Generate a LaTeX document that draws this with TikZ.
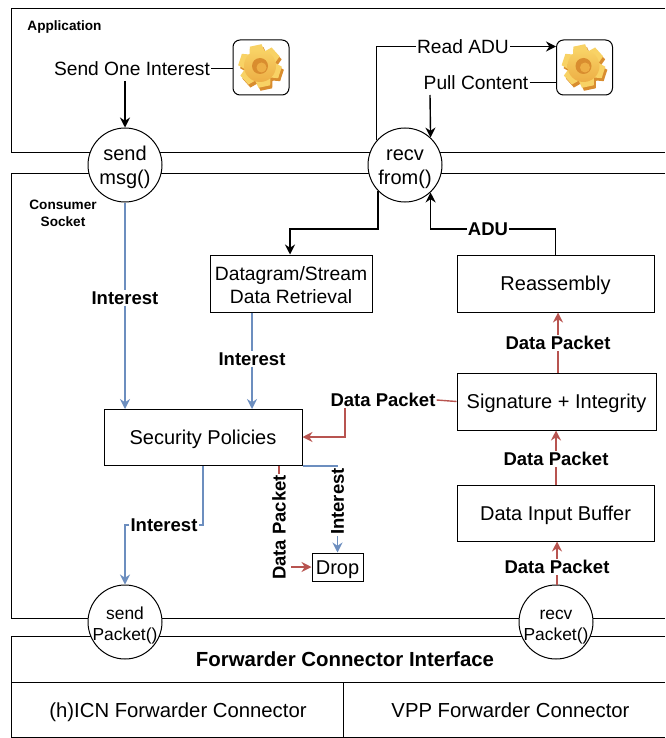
\documentclass[tikz,border=0pt]{standalone}
\usepackage{fontspec}
\setmainfont{Liberation Sans}
\usetikzlibrary{arrows.meta}
\definecolor{intblue}{HTML}{6C8EBF}
\definecolor{datared}{HTML}{B85450}
\definecolor{gearlight}{HTML}{F8D265}
\definecolor{gearmid}{HTML}{EDAE45}
\definecolor{geardark}{HTML}{D98D2F}
\newcommand{\portup}{\rule{0pt}{19pt}}
\newcommand{\portwide}[1]{\makebox[40pt]{#1}}
\tikzset{
  box/.style={draw,line width=1pt,fill=white,font=\fontsize{20}{24}\selectfont,align=center,inner sep=0pt},
  oneline/.style={text height=15pt,text depth=1pt},
  port/.style={draw,circle,line width=1pt,fill=white,minimum size=74pt,inner sep=0pt,align=center,font=\fontsize{20}{24}\selectfont},
  smallport/.style={port,font=\fontsize{17.4}{21}\selectfont},
  txt/.style={font=\fontsize{19.2}{22}\selectfont,inner sep=1pt,oneline},
  lbl/.style={font=\fontsize{18.5}{20}\selectfont\bfseries,inner sep=1pt},
  title/.style={font=\fontsize{13.6}{17}\selectfont\bfseries,align=center,inner sep=0pt},
  blk/.style={line width=1.4pt,-{Stealth[length=10pt,width=10pt]}},
  blu/.style={line width=1.4pt,intblue,-{Stealth[length=10pt,width=10pt]}},
  rd/.style={line width=1.4pt,datared,-{Stealth[length=10pt,width=10pt]}},
  gearbox/.style={draw,rounded corners=7pt,line width=1pt,fill=white,minimum width=56pt,minimum height=55pt,inner sep=0pt},
  gearicon/.pic={
    \foreach \a in {0,60,...,300} \fill[geardark,shift={(2,3)},rotate=\a+12] (-6,-21) -- (6,-21) -- (8,-12) -- (-8,-12) -- cycle;
    \fill[geardark] (2,3) circle[radius=16pt];
    \foreach \a in {0,60,...,300} \fill[gearlight,rotate=\a+12] (-6,-21) -- (6,-21) -- (8,-12) -- (-8,-12) -- cycle;
    \shade[top color=gearlight,bottom color=gearmid] (0,-16) arc[start angle=90,end angle=-270,radius=16pt];
    \fill[geardark] (0,0) circle[radius=8pt];
    \fill[gearmid] (1.5,1.5) circle[radius=5pt];
  }
}
\begin{document}
\begin{tikzpicture}[x=1pt,y=-1pt]
\useasboundingbox (0,0) rectangle (665,738);
% layers
\draw[line width=1pt] (665,9) -- (11,9) -- (11,153) -- (665,153);
\draw[line width=1pt] (665,174) -- (11,174) -- (11,618) -- (665,618);
\draw[line width=1pt] (665,636) -- (11,636) -- (11,737.5) -- (665,737.5);
\draw[line width=1pt] (11,682) -- (665,682);
\draw[line width=1pt] (343.5,682) -- (343.5,737.5);
% titles
\node[title] (apptitle) at (64.5,26.5) {Application};
\node[title] (socktitle) at (63,213) {Consumer\\Socket};
\node[lbl,font=\fontsize{20.4}{24}\selectfont\bfseries] (fwdtitle) at (345,659.5) {Forwarder Connector Interface};
\node[txt,font=\fontsize{20.3}{24}\selectfont] (hicn) at (178,710) {(h)ICN Forwarder Connector};
\node[txt,font=\fontsize{20.3}{24}\selectfont] (vpp) at (510.5,710) {VPP Forwarder Connector};
% gears
\node[gearbox] (gearone) at (261,67.5) {};
\node[gearbox] (geartwo) at (584.5,67.5) {};
\pic at (260,66) {gearicon};
\pic at (583.5,66) {gearicon};
% ports
\node[port] (sendmsg) at (125,165) {\portup send\\\portwide{msg()}};
\node[port] (recvfrom) at (405,165) {\portup recv\\\portwide{from()}};
\node[smallport] (sendpacket) at (125,622) {\portup send\\\portwide{Packet()}};
\node[smallport] (recvpacket) at (556,622) {\portup recv\\\portwide{Packet()}};
% boxes
\node[box,font=\fontsize{19.3}{23}\selectfont,minimum width=162pt,minimum height=57pt] (datagram) at (291,283.5) {\rule{0pt}{17pt}Datagram/Stream\\Data Retrieval};
\node[box,oneline,minimum width=197pt,minimum height=57pt] (reassembly) at (555.5,283.5) {Reassembly};
\node[box,oneline,minimum width=199pt,minimum height=57pt] (signature) at (556.5,401.5) {Signature + Integrity};
\node[box,oneline,minimum width=197pt,minimum height=56pt] (buffer) at (555.5,513) {Data Input Buffer};
\node[box,oneline,minimum width=198pt,minimum height=56pt] (secpol) at (203,437.5) {Security Policies};
\node[box,oneline,minimum width=51pt,minimum height=28pt] (drop) at (337.5,567) {Drop};
% application side
\node[txt] (sendone) at (132,68.5) {Send One Interest};
\node[txt] (readadu) at (463,46.5) {Read ADU};
\node[txt] (pullcontent) at (476,82.5) {Pull Content};
\coordinate (sendstart) at (125,81);
\coordinate (pullstart) at (430,95);
\draw[line width=1.4pt] (sendone.east) -- (sendone.east -| gearone.west);
\draw[blk] (sendstart) -- (sendmsg.north);
\draw[line width=1.4pt] (recvfrom.139) |- (readadu.west);
\draw[blk] (readadu.east) -- (readadu.east -| geartwo.west);
\draw[line width=1.4pt] (pullcontent.east) -- (pullcontent.east -| geartwo.west);
\draw[blk] (pullstart) -- (recvfrom.47);
% socket, black
\coordinate (dgcorner) at (290,229);
\draw[blk] (recvfrom.-136) |- (dgcorner) -- (dgcorner |- datagram.north);
\node[lbl] (adu) at (488,229) {ADU};
\draw[line width=1.4pt] (reassembly.north) |- (adu.east);
\draw[blk] (adu.west) -| (recvfrom.-47);
% interest
\node[lbl] (int1) at (125,298) {Interest};
\node[lbl] (int2) at (252,359) {Interest};
\node[lbl] (int3) at (164,525) {Interest};
\node[lbl,rotate=90] (int4) at (337.5,501.5) {Interest};
\draw[line width=1.4pt,intblue] (sendmsg.south) -- (int1.north);
\draw[blu] (int1.south) -- (int1.south |- secpol.north);
\draw[line width=1.4pt,intblue] (int2 |- datagram.south) -- (int2.north);
\draw[blu] (int2.south) -- (int2.south |- secpol.north);
\draw[line width=1.4pt,intblue] (secpol.south) |- (int3.east);
\draw[blu] (int3.west) -| (sendpacket.north);
\draw[line width=1.4pt,intblue] (secpol.south east) -| (int4.east);
\draw[blu] (int4.west) -- (drop.north);
% data
\node[lbl] (data1) at (558,343) {Data Packet};
\node[lbl] (data2) at (556,459) {Data Packet};
\node[lbl] (data3) at (557,567) {Data Packet};
\node[lbl] (data4) at (383,400) {Data Packet};
\node[lbl,rotate=90] (data5) at (279,527.5) {Data Packet};
\coordinate (polcorner) at (345,437);
\coordinate (dropstart) at (291,567);
\draw[line width=1.4pt,datared] (recvpacket.north -| data3) -- (data3.south);
\draw[rd] (data3.north) -- (data3.north |- buffer.south);
\draw[line width=1.4pt,datared] (data2 |- buffer.north) -- (data2.south);
\draw[rd] (data2.north) -- (data2.north |- signature.south);
\draw[line width=1.4pt,datared] (data1 |- signature.north) -- (data1.south);
\draw[rd] (data1.north) -- (data1.north |- reassembly.south);
\draw[line width=1.4pt,datared] (signature.west) -- (data4.east);
\draw[rd] (data4.south -| polcorner) -- (polcorner) -- (polcorner -| secpol.east);
\draw[line width=1.4pt,datared] (data5 |- secpol.south) -- (data5.east);
\draw[rd] (dropstart) -- (drop.west);
\end{tikzpicture}
\end{document}
